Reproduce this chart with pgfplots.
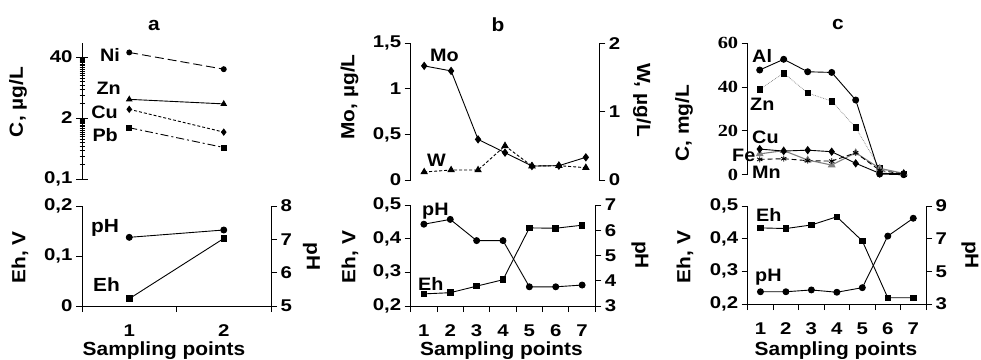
\documentclass[border=0pt]{standalone}
\usepackage{fontspec}
\setmainfont{Liberation Sans}[FakeStretch=1.1]
\newfontfamily\tickfont{Liberation Sans}[FakeStretch=1.2]
\newfontfamily\seriffont{Liberation Serif}[FakeStretch=1.2]
\usepackage{pgfplots}
\pgfplotsset{compat=1.18}
\newcommand\fs[1]{\fontsize{#1}{#1}\selectfont\bfseries}
\newcommand\T[1]{\mbox{\tickfont\fs{17}#1}}
\newcommand\TA[1]{\mbox{\tickfont\fs{17}#1}}
\newcommand\TS[1]{\mbox{\seriffont\fs{17}#1}}
\pgfplotsset{
 base/.style={scale only axis, clip=false, tick align=outside,
   major tick length=6pt, minor tick length=6pt,
   axis line style={line width=0.9pt, black},
   every tick/.append style={line width=0.9pt, black},
   xmin=0.5},
 lefty/.style={base, axis y line*=left},
 righty/.style={base, axis y line*=right, axis x line=none},
 botx/.style={axis x line*=bottom, major x tick style={draw=none},
   xtick={1,...,7}, xticklabels={\T{1},\T{2},\T{3},\T{4},\T{5},\T{6},\T{7}},
   xticklabel style={yshift=-9pt},
   minor xtick={0.5,1.5,...,7.5}},
 nox/.style={axis x line=none},
 ln/.style={black, line width=0.9pt, mark options={solid}},
 circ/.style={mark=*, mark size=3pt},
 sq/.style={mark=square*, mark size=2.8pt},
 dia/.style={mark=diamond*, mark size=3.5pt},
 tri/.style={mark=triangle*, mark size=3.5pt},
}
\begin{document}
\begin{tikzpicture}
\useasboundingbox (0pt,0pt) rectangle (981pt,359pt);
% ---------- panel a top ----------
\begin{axis}[lefty, nox, at={(82pt,180pt)}, anchor=south west, width=189pt, height=136.1pt,
  xmax=2.5, ymode=log, ymin=0.1, ymax=80, ytick={0.1,2,40},
  yticklabels={\TA{0,1},\TA{2},\TA{40}},
  minor ytick={0.2,0.3,0.4,0.5,0.6,0.7,0.8,0.9,1,1.1,1.2,1.3,1.4,1.5,1.6,1.7,1.8,1.9,4,6,8,10,12,14,16,18,20,22,24,26,28,30,32,34,36,38},
  tick align=center, major tick length=12pt, minor tick length=5pt]
\addplot[ln, dash pattern=on 9pt off 4pt, circ, mark size=2.5pt] coordinates {(1,50) (2,22)};
\addplot[ln, tri, mark size=3pt] coordinates {(1,5.0) (2,4.0)};
\addplot[ln, dash pattern=on 3pt off 2pt, dia, mark size=3pt] coordinates {(1,3.07) (2,1.0)};
\addplot[ln, dash pattern=on 8pt off 3pt on 2pt off 3pt, sq, mark size=2.5pt] coordinates {(1,1.24) (2,0.47)};
\end{axis}
% ---------- panel a bottom ----------
\begin{axis}[lefty, botx, at={(82pt,53pt)}, anchor=south west, width=189pt, height=100pt,
  xmax=2.5, ymin=0, ymax=0.2, ytick={0,0.1,0.2}, yticklabels={\T{0},\T{0,1},\T{0,2}}]
\addplot[ln, sq] coordinates {(1,0.0146) (2,0.135)};
\end{axis}
\begin{axis}[righty, at={(82pt,53pt)}, anchor=south west, width=189pt, height=100pt,
  xmax=2.5, ymin=5, ymax=8, ytick={5,6,7,8}, yticklabels={\T{5},\T{6},\T{7},\T{8}}]
\addplot[ln, circ] coordinates {(1,7.06) (2,7.28)};
\end{axis}
% ---------- panel b top ----------
\begin{axis}[lefty, nox, at={(410.7pt,179pt)}, anchor=south west, width=188.6pt, height=136.7pt,
  xmax=7.5, ymin=0, ymax=1.5, ytick={0,0.5,1,1.5}, yticklabels={\T{0},\T{0,5},\T{1},\T{1,5}}]
\addplot[ln, dia] coordinates {(1,1.252) (2,1.197) (3,0.446) (4,0.30) (5,0.153) (6,0.157) (7,0.249)};
\end{axis}
\begin{axis}[righty, at={(410.7pt,179pt)}, anchor=south west, width=188.6pt, height=136.7pt,
  xmax=7.5, ymin=0, ymax=2, ytick={0,1,2}, yticklabels={\T{0},\T{1},\T{2}}]
\addplot[ln, dash pattern=on 3pt off 2pt, tri] coordinates {(1,0.117) (2,0.146) (3,0.146) (4,0.50) (5,0.204) (6,0.21) (7,0.18)};
\end{axis}
% ---------- panel b bottom ----------
\begin{axis}[lefty, botx, at={(410.7pt,53pt)}, anchor=south west, width=184.6pt, height=101pt,
  xmax=7.5, ymin=0.2, ymax=0.5, ytick={0.2,0.3,0.4,0.5}, yticklabels={\T{0,2},\T{0,3},\T{0,4},\T{0,5}}]
\addplot[ln, sq] coordinates {(1,0.236) (2,0.2395) (3,0.259) (4,0.278) (5,0.432) (6,0.431) (7,0.440)};
\end{axis}
\begin{axis}[righty, at={(410.7pt,53pt)}, anchor=south west, width=184.6pt, height=101pt,
  xmax=7.5, ymin=3, ymax=7, ytick={3,4,5,6,7}, yticklabels={\T{3},\T{4},\T{5},\T{6},\T{7}}]
\addplot[ln, circ] coordinates {(1,6.24) (2,6.43) (3,5.59) (4,5.59) (5,3.76) (6,3.76) (7,3.83)};
\end{axis}
% ---------- panel c top ----------
\begin{axis}[lefty, nox, at={(747.7pt,184.3pt)}, anchor=south west, width=168pt, height=131.4pt,
  xmax=7.5, ymin=0, ymax=60, ytick={0,20,40,60}, yticklabels={\TS{0},\TS{20},\TS{40},\TS{60}}]
\addplot[gray, line width=0.7pt, densely dotted, mark=square*, mark size=2.8pt, mark options={solid, fill=black, draw=black}] coordinates {(1,39.0) (2,46.4) (3,37.3) (4,33.6) (5,21.5) (6,2.9) (7,0.3)};
\addplot[ln, circ] coordinates {(1,47.8) (2,52.7) (3,47.0) (4,46.7) (5,34.1) (6,0.3) (7,0)};
\addplot[gray, line width=1.1pt, mark=triangle*, mark size=3.5pt, mark options={solid, fill=gray, draw=gray}] coordinates {(1,9.5) (2,11) (3,6.7) (4,4.4) (5,10) (6,2.9) (7,0.6)};
\addplot[ln, dash pattern=on 5pt off 3pt, mark=asterisk, mark size=3pt] coordinates {(1,7.0) (2,7.3) (3,6.4) (4,6.2) (5,10) (6,2.0) (7,0.3)};
\addplot[ln, dia] coordinates {(1,11.7) (2,10.8) (3,11.2) (4,10.5) (5,5.2) (6,0.6) (7,0.5)};
\end{axis}
% ---------- panel c bottom ----------
\begin{axis}[lefty, botx, at={(747.7pt,55pt)}, anchor=south west, width=178.3pt, height=98pt,
  xmax=7.5, ymin=0.2, ymax=0.5, ytick={0.2,0.3,0.4,0.5}, yticklabels={\T{0,2},\T{0,3},\T{0,4},\T{0,5}}]
\addplot[ln, sq] coordinates {(1,0.433) (2,0.431) (3,0.442) (4,0.467) (5,0.393) (6,0.219) (7,0.219)};
\end{axis}
\begin{axis}[righty, at={(747.7pt,55pt)}, anchor=south west, width=178.3pt, height=98pt,
  xmax=7.5, ymin=3, ymax=9, ytick={3,5,7,9}, yticklabels={\T{3},\T{5},\T{7},\T{9}}]
\addplot[ln, circ] coordinates {(1,3.75) (2,3.75) (3,3.86) (4,3.72) (5,4.0) (6,7.16) (7,8.25)};
\end{axis}
% ---------- titles ----------
\node[font=\fs{19}, anchor=base] at (154pt,328pt) {a};
\node[font=\fs{19}, anchor=base] at (498pt,327.3pt) {b};
\node[font=\fs{19}, anchor=base] at (838pt,329.7pt) {c};
% ---------- axis titles ----------
\begin{scope}[every node/.style={font=\fs{19}, inner sep=0pt}]
\node[rotate=90] at (18pt,257pt) {C, µg/L};
\node[rotate=90] at (20pt,101.5pt) {Eh, V};
\node[rotate=-90] at (311.5pt,102.3pt) {pH};
\node[rotate=90] at (349.5pt,262pt) {Mo, µg/L};
\node[rotate=-90] at (642pt,259pt) {W, µg/L};
\node[rotate=90] at (350pt,102pt) {Eh, V};
\node[rotate=-90] at (640pt,104pt) {pH};
\node[rotate=90] at (684pt,236pt) {C, mg/L};
\node[rotate=90] at (685pt,102pt) {Eh, V};
\node[rotate=-90] at (970pt,104pt) {pH};
\node[anchor=base] at (164pt,4pt) {Sampling points};
\node[anchor=base] at (501.5pt,4pt) {Sampling points};
\node[anchor=base] at (836pt,4pt) {Sampling points};
\end{scope}
% ---------- inner labels ----------
\begin{scope}[every node/.style={font=\fs{18}, inner sep=0pt}]
\node[anchor=base east] at (120pt,297.3pt) {Ni};
\node[anchor=base east] at (121pt,264pt) {Zn};
\node[anchor=base east] at (118pt,240.7pt) {Cu};
\node[anchor=base east] at (118pt,217.3pt) {Pb};
\node[anchor=base west, font=\fs{19}] at (91pt,127pt) {pH};
\node[anchor=base west, font=\fs{19}] at (93pt,67.3pt) {Eh};
\node[anchor=base west] at (430pt,297pt) {Mo};
\node[anchor=base west] at (427pt,193pt) {W};
\node[anchor=base west] at (422pt,144pt) {pH};
\node[anchor=base west] at (418pt,69pt) {Eh};
\node[anchor=base west] at (752pt,296pt) {Al};
\node[anchor=base west] at (750pt,248.3pt) {Zn};
\node[anchor=base west] at (752pt,215pt) {Cu};
\node[anchor=base west] at (732pt,197.3pt) {Fe};
\node[anchor=base west] at (752pt,180.7pt) {Mn};
\node[anchor=base west] at (756pt,137.3pt) {Eh};
\node[anchor=base west] at (755pt,77.3pt) {pH};
\end{scope}
\end{tikzpicture}
\end{document}
